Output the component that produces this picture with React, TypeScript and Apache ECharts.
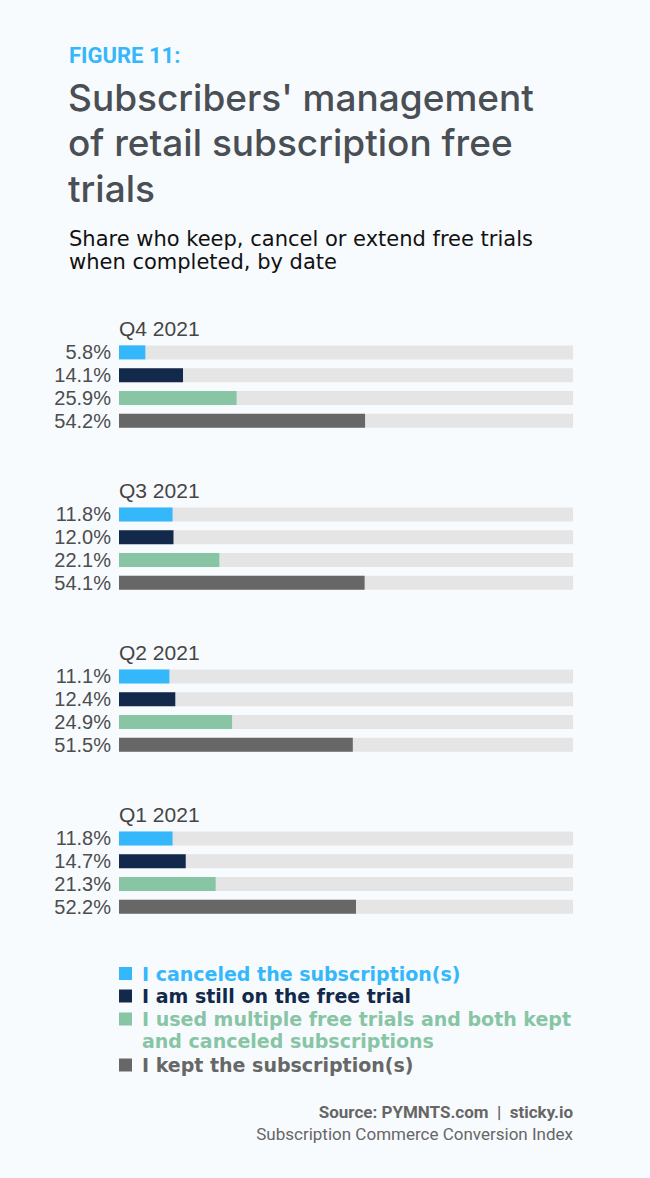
import React, { useEffect, useRef } from "react";
import * as echarts from "echarts";

const quarters = ["Q4 2021", "Q3 2021", "Q2 2021", "Q1 2021"];
const categories = [
  "I canceled the subscription(s)",
  "I am still on the free trial",
  "I used multiple free trials and both kept and canceled subscriptions",
  "I kept the subscription(s)",
];
const legendLines = [
  ["I canceled the subscription(s)"],
  ["I am still on the free trial"],
  ["I used multiple free trials and both kept", "and canceled subscriptions"],
  ["I kept the subscription(s)"],
];
// values per category, in quarter order (Q4, Q3, Q2, Q1)
const canceled = [5.8, 11.8, 11.1, 11.8];
const stillOnTrial = [14.1, 12.0, 12.4, 14.7];
const multipleTrials = [25.9, 22.1, 24.9, 21.3];
const kept = [54.2, 54.1, 51.5, 52.2];
const seriesValues = [canceled, stillOnTrial, multipleTrials, kept];
const colors = ["#35b8fb", "#13294b", "#87c5a5", "#666766"];

const TITLE_FONT = "Inter, 'Noto Sans', sans-serif";
const SUB_FONT = "'DejaVu Sans', sans-serif";
const LABEL_FONT = "'Liberation Sans', Arial, sans-serif";

export default function App() {
  const ref = useRef<HTMLDivElement>(null);
  useEffect(() => {
    if (!ref.current) return;
    const chart = echarts.init(ref.current, null, { renderer: "svg" });
    const groupTop0 = 341;
    const groupStep = 162;
    const groupH = 91;
    const grids: any[] = [];
    const xAxes: any[] = [];
    const yAxes: any[] = [];
    const series: any[] = [];
    const graphics: any[] = [];
    quarters.forEach((q, gi) => {
      const top = groupTop0 + gi * groupStep;
      grids.push({ left: 119, right: 77, top, height: groupH });
      xAxes.push({
        gridIndex: gi,
        type: "value",
        min: 0,
        max: 100,
        show: false,
      });
      yAxes.push({
        gridIndex: gi,
        type: "category",
        inverse: true,
        data: categories,
        axisLine: { show: false },
        axisTick: { show: false },
        splitLine: { show: false },
        axisLabel: {
          interval: 0,
          hideOverlap: false,
          margin: 8,
          fontFamily: LABEL_FONT,
          fontSize: 20,
          color: "#4d4d4d",
          formatter: (_v: string, idx: number) =>
            seriesValues[idx][gi].toFixed(1) + "%",
        },
      });
      series.push({
        type: "bar",
        name: q,
        xAxisIndex: gi,
        yAxisIndex: gi,
        barWidth: 14,
        showBackground: true,
        backgroundStyle: { color: "#e5e5e5" },
        data: categories.map((c, ci) => ({
          name: c,
          value: seriesValues[ci][gi],
          itemStyle: { color: colors[ci] },
        })),
      });
      graphics.push({
        type: "text",
        x: 119,
        y: top - 13,
        style: {
          text: q,
          fontFamily: LABEL_FONT,
          fontSize: 21,
          fill: "#454545",
          verticalAlign: "middle",
        },
      });
    });

    // legend
    const legendY = [973.5, 996, 1019, 1065];
    legendLines.forEach((lines, i) => {
      const y = legendY[i];
      graphics.push({
        type: "rect",
        shape: { x: 119, y: y - 6.5, width: 13, height: 13 },
        style: { fill: colors[i] },
      });
      lines.forEach((line, li) => {
        graphics.push({
          type: "text",
          x: 142,
          y: y + li * 22,
          style: {
            text: line,
            fontFamily: SUB_FONT,
            fontWeight: "bold",
            fontSize: 19,
            fill: colors[i],
            verticalAlign: "middle",
          },
        });
      });
    });

    graphics.push(
      {
        type: "text",
        x: 69,
        y: 55,
        style: {
          text: "FIGURE 11:",
          fontFamily: "Roboto, sans-serif",
          fontWeight: "bold",
          fontSize: 22,
          fill: "#35b8fb",
          verticalAlign: "middle",
        },
      },
      ...["Subscribers' management", "of retail subscription free", "trials"].map(
        (t, i) => ({
          type: "text",
          x: 68,
          y: 97 + i * 45.5,
          style: {
            text: t,
            fontFamily: TITLE_FONT,
            fontWeight: 500,
            fontSize: 37,
            fill: "#4a4e55",
            verticalAlign: "middle",
          },
        })
      ),
      ...[
        "Share who keep, cancel or extend free trials",
        "when completed, by date",
      ].map((t, i) => ({
        type: "text",
        x: 69,
        y: 239 + i * 22.5,
        style: {
          text: t,
          fontFamily: SUB_FONT,
          fontSize: 21,
          fill: "#111111",
          verticalAlign: "middle",
        },
      })),
      {
        type: "text",
        x: 573,
        y: 1112,
        style: {
          text: "Source: PYMNTS.com  |  sticky.io",
          fontFamily: "Roboto, sans-serif",
          fontWeight: "bold",
          fontSize: 17,
          fill: "#666666",
          align: "right",
          verticalAlign: "middle",
        },
      },
      {
        type: "text",
        x: 573,
        y: 1134,
        style: {
          text: "Subscription Commerce Conversion Index",
          fontFamily: "Roboto, sans-serif",
          fontSize: 17,
          fill: "#666666",
          align: "right",
          verticalAlign: "middle",
        },
      }
    );

    chart.setOption({
      animation: false,
      backgroundColor: "#f8fbfe",
      grid: grids,
      xAxis: xAxes,
      yAxis: yAxes,
      series,
      graphic: graphics,
    });
    return () => chart.dispose();
  }, []);
  return (
    <div
      ref={ref}
      style={{ position: "fixed", left: 0, top: 0, width: 650, height: 1178 }}
    />
  );
}
